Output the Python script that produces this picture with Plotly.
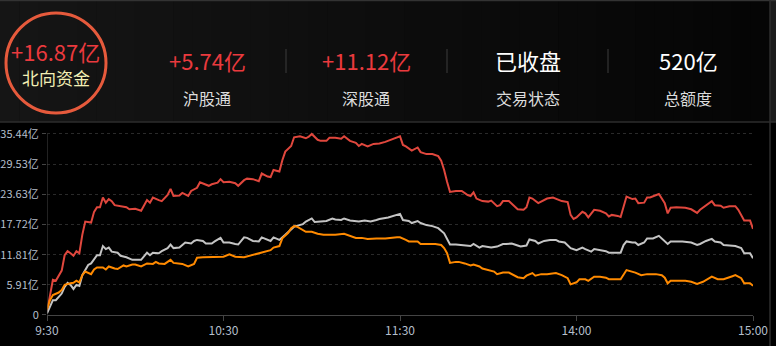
import plotly.graph_objects as go

# ---------------- data ----------------
x_tick_pos = [0, 60, 120, 180, 240]
x_tick_labels = ["9:30", "10:30", "11:30", "14:00", "15:00"]
y_tick_vals = [0, 5.91, 11.81, 17.72, 23.63, 29.53, 35.44]
y_tick_labels = ["0", "5.91亿", "11.81亿", "17.72亿", "23.63亿", "29.53亿", "35.44亿"]

total_t = [0,1,2,3,4,5,6,7,8,9,10,11,12,13,15,16,17,18,19,20,21,22,23,25,27,28,30,32,34,35,36,38,39,41,42,43,45,46,47,48,49,51,52,54,55,56,58,59,60,62,64,65,67,68,70,72,73,75,76,77,79,80,81,83,84,86,88,89,90,92,93,95,96,98,100,101,103,105,106,107,109,111,113,115,118,120,121,122,124,126,127,129,131,133,134,135,136,137,139,141,143,144,145,146,148,150,151,153,154,155,157,158,160,162,163,164,165,167,169,170,172,174,175,177,178,179,180,182,183,184,186,188,190,191,192,194,195,197,199,200,201,203,204,205,207,208,209,210,211,212,214,217,219,221,222,224,226,227,229,230,232,234,235,237,239,240]
total_v = [0.6,3.9,6.9,6.7,7.8,8.7,11.7,12.5,12.1,11.6,12.5,12.1,15.7,18.3,18.1,20.2,21.1,21.1,23.0,22.0,22.7,22.3,21.5,21.3,21.1,20.7,20.8,20.4,22.5,22.0,23.0,22.5,22.3,23.5,24.7,23.3,23.4,23.9,23.6,23.3,24.3,24.9,26.0,25.6,25.3,25.6,25.9,26.6,26.0,26.1,25.8,25.3,26.4,26.7,26.6,26.2,27.7,27.1,27.0,28.4,28.1,30.3,32.0,33.1,34.8,35.0,34.6,34.9,35.44,34.3,34.1,34.1,34.7,34.7,34.5,35.0,34.1,33.7,33.1,33.5,33.0,33.5,33.6,33.9,34.6,35.0,33.3,33.0,32.2,32.8,31.9,31.5,31.5,31.1,30.2,28.4,26.1,24.1,24.3,24.3,23.5,23.3,24.0,22.8,22.3,22.2,22.4,21.3,21.5,22.3,22.3,21.7,20.7,20.6,21.1,23.0,22.8,21.9,22.4,22.8,23.0,22.5,22.3,22.1,19.6,18.8,19.1,20.2,19.9,19.1,20.6,20.4,19.9,19.3,19.6,19.4,19.2,23.2,22.7,22.8,21.9,22.0,23.0,23.0,23.5,23.7,22.8,21.9,19.9,21.0,21.1,21.0,20.7,20.0,20.6,21.5,22.3,21.5,21.4,21.0,21.3,21.3,20.6,18.5,18.5,16.87]

sz_t = [0,2,3,4,5,6,7,8,9,10,11,12,14,15,17,18,19,20,21,22,24,25,27,29,30,32,34,35,36,38,39,41,42,43,45,46,47,49,50,51,53,54,56,57,59,60,62,64,65,67,68,70,72,73,75,76,77,79,81,83,84,87,88,90,91,93,95,97,98,100,101,103,105,106,108,110,112,113,116,118,120,121,123,124,126,127,129,131,133,135,136,137,139,142,144,145,147,148,150,151,153,155,156,158,160,161,163,164,166,167,169,171,173,174,176,178,180,182,183,185,186,188,190,191,193,195,196,197,199,200,201,203,204,206,208,209,211,212,214,216,219,221,222,224,226,227,229,230,232,234,236,237,239,240]
sz_v = [0.3,2.9,2.9,3.6,4.2,5.5,6.3,5.9,5.1,5.9,5.7,7.8,9.8,10.1,11.7,11.7,13.5,12.9,13.2,12.4,12.2,11.6,11.3,10.8,10.8,10.8,12.2,11.7,12.2,12.1,12.5,13.1,13.8,13.1,13.2,13.7,14.2,14.0,14.5,14.7,14.5,14.0,14.0,14.4,15.1,14.2,14.2,13.9,13.8,15.2,15.1,14.5,14.4,15.2,14.8,14.5,15.2,14.7,15.7,16.8,17.3,17.8,18.3,18.9,18.2,18.3,18.4,18.9,18.7,18.6,18.9,18.5,18.3,18.3,18.5,18.3,18.6,18.8,19.1,19.4,19.8,18.6,18.4,18.0,18.4,18.0,17.6,17.4,17.0,16.0,15.0,13.8,13.8,13.6,13.5,13.9,13.2,13.5,13.2,13.2,13.4,13.9,13.9,14.0,13.6,13.4,13.6,14.8,14.5,14.0,14.5,14.7,14.7,14.4,14.2,13.1,12.7,13.2,12.9,12.4,12.9,12.7,12.5,12.2,12.2,12.2,13.7,14.4,14.2,14.2,13.7,14.2,15.0,15.0,15.5,15.0,13.9,14.4,14.4,14.4,14.2,13.7,13.9,14.5,14.9,14.4,14.2,13.7,13.6,13.5,13.1,12.1,12.1,11.12]

sh_t = [0,1,2,3,4,5,6,8,9,10,11,12,13,15,16,17,19,20,21,23,24,26,27,29,30,32,34,36,37,38,40,42,43,46,48,50,51,53,55,58,60,62,64,67,69,71,73,75,76,77,79,80,82,83,84,85,87,88,90,92,94,96,98,101,103,105,107,109,112,115,119,120,122,123,126,127,130,132,134,135,136,137,139,140,142,144,145,147,148,150,152,153,155,157,158,160,162,163,165,166,168,170,173,175,177,178,180,181,183,184,186,188,190,191,194,195,197,199,200,202,204,207,209,210,211,212,214,217,219,221,223,226,228,230,233,234,236,237,239,240]
sh_v = [1.1,2.9,3.9,4.1,4.4,4.9,5.9,6.2,6.3,6.7,6.4,7.8,8.5,8.0,8.9,9.3,9.3,8.9,9.5,9.1,9.0,9.7,9.5,9.9,9.9,9.5,10.1,10.0,10.4,10.1,10.0,10.8,10.2,10.0,9.5,10.0,11.2,11.3,11.3,11.4,11.4,11.9,11.4,11.3,11.6,11.9,12.2,12.4,12.7,13.2,13.5,15.0,16.1,17.0,17.4,17.3,16.6,16.3,16.3,15.9,15.7,15.7,15.7,15.9,15.5,15.1,15.1,14.9,15.0,15.0,15.2,15.2,14.7,14.4,14.4,13.9,13.9,13.9,13.7,13.1,12.1,10.2,10.4,10.4,10.1,9.7,9.9,9.5,9.1,8.8,8.5,8.0,8.3,8.3,8.0,7.4,7.2,7.7,8.2,7.7,8.0,8.0,8.2,7.8,7.2,6.0,6.4,7.0,7.0,6.7,7.5,7.5,7.3,7.0,7.0,7.0,8.8,8.5,8.3,7.8,8.0,8.0,7.8,7.3,6.2,6.7,6.7,6.7,6.5,6.1,6.5,7.5,7.0,7.0,7.6,7.8,7.2,6.2,6.2,5.74]

header_values = ["+16.87亿", "+5.74亿", "+11.12亿", "已收盘", "520亿"]
header_labels = ["北向资金", "沪股通", "深股通", "交易状态", "总额度"]

# ---------------- layout helpers ----------------
W, H = 776, 346
FONT = "Noto Sans CJK SC"


def fx(px):
    return px / W


def fy(py):
    return 1 - py / H


Y0_PX, YTOP_PX = 315, 134
Y_MAX = 36.2
px_per_unit = (Y0_PX - YTOP_PX) / y_tick_vals[-1]
ydom_top = fy(Y0_PX - Y_MAX * px_per_unit)

fig = go.Figure()

fig.add_trace(go.Scatter(x=total_t, y=total_v, mode="lines", name="北向资金",
                         line=dict(color="#e0473d", width=2), hoverinfo="skip"))
fig.add_trace(go.Scatter(x=sz_t, y=sz_v, mode="lines", name="深股通",
                         line=dict(color="#c4c4c4", width=2), hoverinfo="skip"))
fig.add_trace(go.Scatter(x=sh_t, y=sh_v, mode="lines", name="沪股通",
                         line=dict(color="#ff8a00", width=2), hoverinfo="skip"))

shapes = []
# header gradient background
N = 40
c0, c1 = (21, 21, 21), (5, 5, 5)
for i in range(N):
    a = i / (N - 1)
    c = tuple(int(round(c0[k] + (c1[k] - c0[k]) * a)) for k in range(3))
    shapes.append(dict(type="rect", xref="paper", yref="paper",
                       x0=fx(770 * i / N), x1=fx(770 * (i + 1) / N + 0.5),
                       y0=fy(122), y1=fy(0), line=dict(width=0),
                       fillcolor="rgb(%d,%d,%d)" % c, layer="below"))
# right strip in header
shapes.append(dict(type="rect", xref="paper", yref="paper", x0=fx(770), x1=1,
                   y0=fy(122), y1=1, line=dict(width=0), fillcolor="#1c1c1c", layer="below"))
# top line
shapes.append(dict(type="line", xref="paper", yref="paper", x0=0, x1=1, y0=fy(0.5), y1=fy(0.5),
                   line=dict(color="#333333", width=1.5)))
# header/chart separator
shapes.append(dict(type="line", xref="paper", yref="paper", x0=0, x1=1, y0=fy(122), y1=fy(122),
                   line=dict(color="#2c2c2c", width=1.5)))
# right vertical border
shapes.append(dict(type="line", xref="paper", yref="paper", x0=fx(770), x1=fx(770), y0=0, y1=1,
                   line=dict(color="#2e2e2e", width=1.5)))
# circle
shapes.append(dict(type="circle", xref="paper", yref="paper",
                   x0=fx(6), x1=fx(106), y0=fy(113), y1=fy(13),
                   line=dict(color="#e65a3c", width=3)))
# separators in header
for sx in [286, 447, 608]:
    shapes.append(dict(type="line", xref="paper", yref="paper", x0=fx(sx), x1=fx(sx),
                       y0=fy(73), y1=fy(49), line=dict(color="#3c3c3c", width=1)))
# y-axis line
shapes.append(dict(type="line", xref="x", yref="y", x0=0, x1=0, y0=0, y1=y_tick_vals[-1],
                   line=dict(color="#444444", width=1)))

annotations = []
centers = [56, 207, 366, 528, 688]
val_colors = ["#ea3a3e", "#ea3a3e", "#ea3a3e", "#ffffff", "#ffffff"]
lab_colors = ["#f3efb4", "#dcdcdc", "#dcdcdc", "#dcdcdc", "#dcdcdc"]
val_y = [51, 60, 60, 60, 60]
lab_y = [77, 98, 98, 98, 98]
lab_size = [17, 16, 16, 16, 16]
for i in range(5):
    annotations.append(dict(x=fx(centers[i]), y=fy(val_y[i]), xref="paper", yref="paper",
                            text=header_values[i], showarrow=False, xanchor="center", yanchor="middle",
                            font=dict(family=FONT, size=22, color=val_colors[i])))
    annotations.append(dict(x=fx(centers[i]), y=fy(lab_y[i]), xref="paper", yref="paper",
                            text=header_labels[i], showarrow=False, xanchor="center", yanchor="middle",
                            font=dict(family=FONT, size=lab_size[i], color=lab_colors[i])))

fig.update_layout(
    width=W, height=H,
    margin=dict(l=0, r=0, t=0, b=0, pad=0, autoexpand=False),
    paper_bgcolor="#000000", plot_bgcolor="#000000",
    showlegend=False,
    shapes=shapes, annotations=annotations,
    xaxis=dict(domain=[fx(47), fx(753)], range=[0, 240], tickvals=x_tick_pos, ticktext=x_tick_labels,
               showgrid=False, zeroline=False, showline=True, linecolor="#444444", linewidth=1,
               ticks="outside", ticklen=5, tickcolor="#444444", automargin=False,
               tickfont=dict(family=FONT, size=12, color="#b4bfcc"), fixedrange=True),
    yaxis=dict(domain=[fy(Y0_PX), ydom_top], range=[0, Y_MAX], tickvals=y_tick_vals, ticktext=y_tick_labels,
               showgrid=True, gridcolor="#2a2a2a", griddash="3px,3px", gridwidth=1,
               zeroline=False, showline=False, automargin=False,
               ticks="outside", ticklen=4, tickcolor="#444444", ticklabelstandoff=1,
               tickfont=dict(family=FONT, size=11, color="#b4bfcc"), fixedrange=True),
)

fig.write_html("out.html")
